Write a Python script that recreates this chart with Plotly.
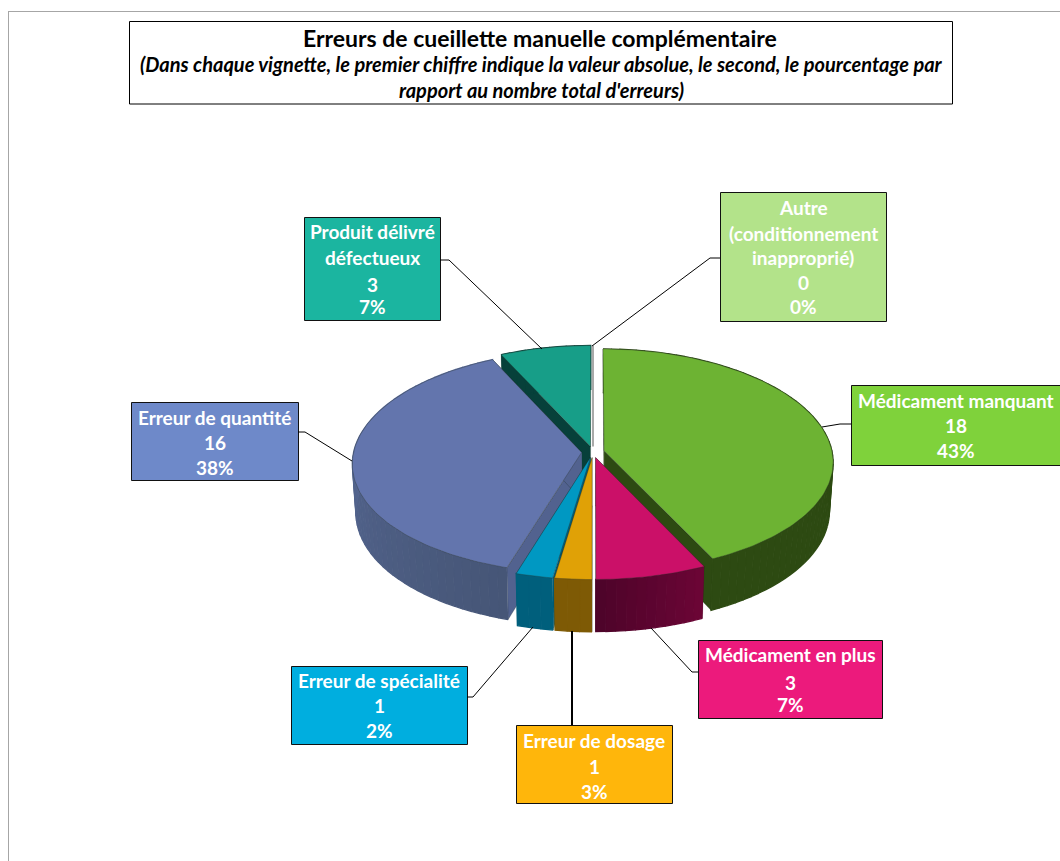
import math
import plotly.graph_objects as go

# ---- data (clockwise from 12 o'clock) ----
categories = ["Médicament manquant", "Médicament en plus", "Erreur de dosage",
              "Erreur de spécialité", "Erreur de quantité", "Produit délivré défectueux",
              "Autre (conditionnement inapproprié)"]
values = [18, 3, 1, 1, 16, 3, 0]
percent_labels = ["43%", "7%", "3%", "2%", "38%", "7%", "0%"]
label_lines = [["Médicament manquant"], ["Médicament en plus"], ["Erreur de dosage"],
               ["Erreur de spécialité"], ["Erreur de quantité"],
               ["Produit délivré", "défectueux"],
               ["Autre", "(conditionnement", "inapproprié)"]]
title_lines = ["Erreurs de cueillette manuelle complémentaire",
               "(Dans chaque vignette, le premier chiffre indique la valeur absolue, le second, le pourcentage par",
               "rapport au nombre total d'erreurs)"]

# ---- styles ----
top_colors = ["#6DB333", "#CB1068", "#E0A106", "#0098C2", "#6375AD", "#179E88", "#FFFFFF"]
wall_start = ["#2D4A12", "#6B0535", "#7E5A05", "#005F7C", "#465677", "#07403A", "#888888"]
wall_end = ["#2D4A12", "#4E042A", "#7E5A05", "#005F7C", "#5F71A2", "#07403A", "#888888"]
cut_colors = ["#2D4A12", "#6B0535", "#7E5A05", "#005F7C", "#52628F", "#07403A", "#888888"]
box_colors = ["#7FD23B", "#EC1A7C", "#FFB60B", "#00AEDF", "#6E89C9", "#1BB5A0", "#B3E38A"]
boxes = [(851, 385, 1064, 465), (698, 640, 882, 718), (516, 725, 672, 803), (291, 666, 467, 744),
         (131, 402, 298, 480), (304, 217, 440, 320), (720, 192, 886, 321)]
line_y = [[400, 425, 450], [654, 682, 704], [740, 766, 791], [680, 705, 730],
          [417, 442, 467], [231, 257, 284, 306], [207, 233, 257, 282, 306]]
leaders = [[(851, 424), (840, 424), (822, 427)],
           [(698, 672), (692, 672), (651, 628)],
           [(572, 725), (572, 631)],
           [(467, 697), (473, 697), (533, 627)],
           [(298, 432), (305, 432), (352, 461)],
           [(440, 260), (449, 260), (542, 349)],
           [(720, 258), (710, 258), (592, 346)]]
draw_order = [6, 5, 0, 4, 3, 1, 2]

CX, CY, RX, RY, PY, PX, EXPLODE = 593, 452, 228, 111.5, 9.5, 0.10, 0.05
DEPTH, DEPTH_P, BOTTOM_SCALE = 48, 4, 0.985


def project(U, V):
    return CX + RX * U * (1 + PX * V), CY + V * (RY + PY * V)


def lower(p, V):
    return CX + (p[0] - CX) * BOTTOM_SCALE, p[1] + DEPTH + DEPTH_P * V


def mix(a, b, t):
    ca = [int(a[i:i + 2], 16) for i in (1, 3, 5)]
    cb = [int(b[i:i + 2], 16) for i in (1, 3, 5)]
    return "#%02X%02X%02X" % tuple(round(x + (y - x) * t) for x, y in zip(ca, cb))


fig = go.Figure()


def poly(pts, fill, line=None, width=0.0, name=None):
    fig.add_trace(go.Scatter(x=[p[0] for p in pts], y=[p[1] for p in pts], mode="lines",
                             fill="toself", fillcolor=fill,
                             line=dict(color=line or fill, width=width),
                             showlegend=False, hoverinfo="text" if name else "skip", text=name))


total = sum(values)
spans = []
acc = 0.0
for v in values:
    spans.append((acc, acc + v / total * 2 * math.pi))
    acc = spans[-1][1]

for i in draw_order:
    a0, a1 = spans[i]
    mid = (a0 + a1) / 2
    ou, ov = EXPLODE * math.sin(mid), -EXPLODE * math.cos(mid)

    def rim(a):
        U, V = ou + math.sin(a), ov - math.cos(a)
        return project(U, V), V

    apex = project(ou, ov)
    if values[i] == 0:
        p, _ = rim(a0)
        fig.add_trace(go.Scatter(x=[apex[0], p[0]], y=[apex[1], p[1]], mode="lines",
                                 line=dict(color="#8C8C8C", width=1.5),
                                 showlegend=False, hoverinfo="skip"))
        continue
    # cut faces
    for a in (a0, a1):
        p, V = rim(a)
        poly([apex, p, lower(p, V), lower(apex, ov)], cut_colors[i], "rgba(20,30,20,0.45)", 0.5)
    # outer wall in strips
    n = max(2, int((a1 - a0) / 0.04))
    for k in range(n):
        b0 = a0 + (a1 - a0) * k / n
        b1 = a0 + (a1 - a0) * (k + 1) / n
        p0, v0 = rim(b0)
        p1, v1 = rim(b1)
        c = mix(wall_start[i], wall_end[i], k / max(1, n - 1))
        poly([p0, p1, lower(p1, v1), lower(p0, v0)], c, c, 1.3)
    # top face
    arc = [rim(a0 + (a1 - a0) * k / (n * 2))[0] for k in range(n * 2 + 1)]
    poly([apex] + arc + [apex], top_colors[i], "rgba(40,50,40,0.55)", 0.6,
         f"{categories[i]}: {values[i]} ({percent_labels[i]})")

shapes = [
    dict(type="line", x0=8.5, x1=8.5, y0=11, y1=861, line=dict(color="#A6A6A6", width=1)),
    dict(type="line", x0=8, x1=1060, y0=11.5, y1=11.5, line=dict(color="#A6A6A6", width=1)),
    dict(type="rect", x0=129.5, y0=21.5, x1=952.5, y1=104, fillcolor="#FFFFFF",
         line=dict(color="#000000", width=1)),
]
annotations = []


def text(x, y, s, size, color):
    annotations.append(dict(x=x, y=y, text=s, showarrow=False, xref="x", yref="y", xanchor="center",
                            yanchor="middle", font=dict(family="Lato", size=size, color=color)))


for i in range(len(categories)):
    x0, y0, x1, y1 = boxes[i]
    shapes.append(dict(type="rect", x0=x0 + .5, y0=y0 + .5, x1=x1 + .5, y1=y1 + .5, fillcolor=box_colors[i],
                       line=dict(color="#111111", width=1)))
    shapes.append(dict(type="path", path="M " + " L ".join(f"{a} {b}" for a, b in leaders[i]),
                       line=dict(color="#000000", width=2 if i == 2 else 1)))
    lines = label_lines[i] + [str(values[i]), percent_labels[i]]
    cx = (x0 + min(x1, 1060)) / 2
    for s, y in zip(lines, line_y[i]):
        text(cx, y, f"<b>{s}</b>", 19, "#FFFFFF")

text(540, 38, f"<b>{title_lines[0]}</b>", 23, "#000000")
text(541, 64, f"<b><i>{title_lines[1]}</i></b>", 20, "#000000")
text(541, 90, f"<b><i>{title_lines[2]}</i></b>", 20, "#000000")

fig.update_layout(
    width=1060, height=861, margin=dict(l=0, r=0, t=0, b=0),
    paper_bgcolor="#FFFFFF", plot_bgcolor="#FFFFFF", showlegend=False,
    xaxis=dict(range=[0, 1060], visible=False, fixedrange=True),
    yaxis=dict(range=[861, 0], visible=False, fixedrange=True),
    shapes=shapes, annotations=annotations,
)
fig.write_html("out.html", config={"displayModeBar": False},
               post_script="document.body.style.margin='0';document.body.style.overflow='hidden';")
